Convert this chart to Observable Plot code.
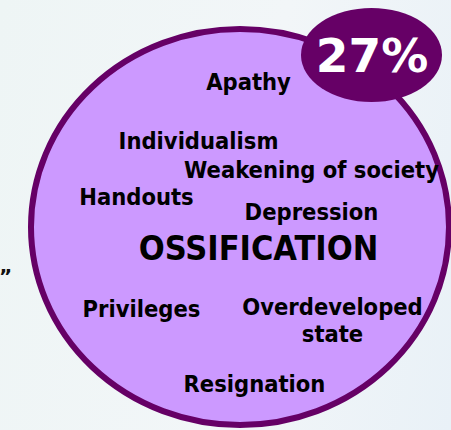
<!DOCTYPE html>
<html>
<head>
<meta charset="utf-8">
<script src="https://cdn.jsdelivr.net/npm/d3@7"></script>
<script src="https://cdn.jsdelivr.net/npm/@observablehq/plot@0.6"></script>
<style>
  html, body { margin: 0; padding: 0; background: #eef4f5; }
  #chart { width: 451px; height: 430px; overflow: hidden; }
  #chart text.cond { font-stretch: condensed; }
</style>
</head>
<body>
<div id="chart"></div>
<script>
// ---- data ----
const words = ["Apathy", "Individualism", "Weakening of society", "Handouts", "Depression",
               "Privileges", "Overdeveloped\nstate", "Resignation"];
const mainWord = "OSSIFICATION";
const share = 27; // percent

// ---- layout (chart units) ----
const wordX = [248, 198, 311, 136, 311, 141, 332, 254];
const wordY = [80.5, 139.5, 168.5, 195.5, 210.5, 307.5, 319, 383];
const mainPos = {x: 258, y: 249};
const bubble = {cx: 240, cy: 227, rx: 209, ry: 198};
const badge = {cx: 371.5, cy: 55, rx: 70.5, ry: 47};
const quotePos = {x: 5, y: 276};

const wordTable = words.map((w, i) => ({label: w, x: wordX[i], y: wordY[i]}));
const ellipse = e => [{x1: e.cx - e.rx, x2: e.cx + e.rx, y1: e.cy - e.ry, y2: e.cy + e.ry}];

const font = "'DejaVu Sans Condensed', 'DejaVu Sans', Verdana, sans-serif";
const fontWide = "'DejaVu Sans', Verdana, sans-serif";

const chart = Plot.plot({
  width: 451,
  height: 430,
  margin: 0,
  x: {domain: [0, 451], range: [0, 451], axis: null},
  y: {domain: [0, 430], range: [0, 430], axis: null},
  style: {background: "linear-gradient(100deg, #eef5f5 0%, #f2f6f8 55%, #e9f1f7 100%)", overflow: "visible"},
  marks: [
    Plot.text([quotePos], {x: "x", y: "y", text: () => "\u201D", fontFamily: fontWide, fontWeight: "bold", fontSize: 20, fill: "#111", textAnchor: "middle", lineAnchor: "middle"}),
    Plot.rect(ellipse(bubble), {x1: "x1", x2: "x2", y1: "y1", y2: "y2", rx: 9999, ry: 9999,
      fill: "#cc99ff", stroke: "#660066", strokeWidth: 6}),
    Plot.rect(ellipse(badge), {x1: "x1", x2: "x2", y1: "y1", y2: "y2", rx: 9999, ry: 9999,
      fill: "#660066"}),
    Plot.text(wordTable, {x: "x", y: "y", text: "label", fontFamily: font, fontWeight: "bold",
      fontSize: 23.5, fill: "#000", textAnchor: "middle", lineAnchor: "middle", lineHeight: 1.15, className: "cond"}),
    Plot.text([mainPos], {x: "x", y: "y", text: () => mainWord, fontFamily: font, fontWeight: "bold",
      fontSize: 34, fill: "#000", textAnchor: "middle", lineAnchor: "middle", className: "cond"}),
    Plot.text([badge], {x: "cx", y: "cy", text: () => `${share}%`, fontFamily: fontWide, fontWeight: "bold",
      fontSize: 47, fill: "#fff", textAnchor: "middle", lineAnchor: "middle", dy: 1})
  ]
});
document.getElementById("chart").appendChild(chart);
</script>
</body>
</html>
